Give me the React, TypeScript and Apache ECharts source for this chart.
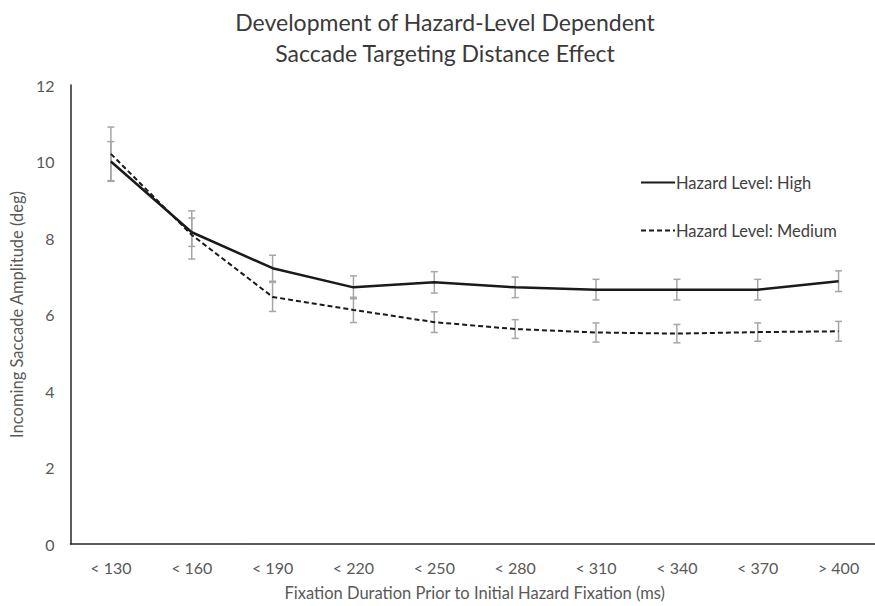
import React, { useEffect, useRef } from "react";
import * as echarts from "echarts";

const categories = ["< 130", "< 160", "< 190", "< 220", "< 250", "< 280", "< 310", "< 340", "< 370", "> 400"];
const highValues = [10.0, 8.15, 7.21, 6.71, 6.84, 6.71, 6.65, 6.65, 6.65, 6.87];
const highErrors = [0.52, 0.37, 0.34, 0.3, 0.28, 0.27, 0.27, 0.27, 0.27, 0.27];
const mediumValues = [10.2, 8.08, 6.46, 6.12, 5.8, 5.62, 5.53, 5.5, 5.54, 5.56];
const mediumErrors = [0.7, 0.63, 0.38, 0.33, 0.27, 0.245, 0.25, 0.24, 0.24, 0.26];
const yTicks = { min: 0, max: 12, interval: 2 };

const FONT = "Lato";
const LABEL = "#595959";

function errorData(vals: number[], errs: number[]) {
  return vals.map((v, i) => [i, v - errs[i], v + errs[i]]);
}

const renderError = (params: any, api: any) => {
  const x = api.value(0);
  const lo = api.coord([x, api.value(1)]);
  const hi = api.coord([x, api.value(2)]);
  const half = 3.5;
  const style = { stroke: "#a6a6a6", lineWidth: 1.5, fill: "none" };
  return {
    type: "group",
    children: [
      { type: "line", shape: { x1: lo[0], y1: lo[1], x2: hi[0], y2: hi[1] }, style },
      { type: "line", shape: { x1: lo[0] - half, y1: lo[1], x2: lo[0] + half, y2: lo[1] }, style },
      { type: "line", shape: { x1: hi[0] - half, y1: hi[1], x2: hi[0] + half, y2: hi[1] }, style },
    ],
  };
};

export default function App() {
  const ref = useRef<HTMLDivElement>(null);
  useEffect(() => {
    if (!ref.current) return;
    const chart = echarts.init(ref.current, null, { renderer: "svg" });
    chart.setOption({
      animation: false,
      backgroundColor: "#ffffff",
      title: {
        text: "Development of Hazard-Level Dependent\nSaccade Targeting Distance Effect",
        left: 445,
        textAlign: "center",
        top: 6,
        padding: 0,
        textStyle: { fontFamily: FONT, fontSize: 23, fontWeight: "normal", color: "#3a3a3a", lineHeight: 31 },
      },
      legend: {
        orient: "vertical",
        left: 640,
        top: 174,
        padding: 0,
        itemGap: 31,
        itemWidth: 34,
        itemHeight: 18,
        itemStyle: { opacity: 0 },
        data: ["Hazard Level: High", "Hazard Level: Medium"],
        textStyle: { fontFamily: FONT, fontSize: 16.5, color: "#404040", padding: [0, 0, 0, -4] },
      },
      grid: { left: 67, right: 0, top: 85, bottom: 61, containLabel: false },
      xAxis: {
        type: "category",
        data: categories,
        boundaryGap: true,
        axisLine: { lineStyle: { color: "#262626", width: 1.5 } },
        axisTick: { show: false },
        axisLabel: { fontFamily: FONT, fontSize: 16, color: LABEL, margin: 15 },
        name: "Fixation Duration Prior to Initial Hazard Fixation (ms)",
        nameLocation: "middle",
        nameGap: 40,
        nameTextStyle: { fontFamily: FONT, fontSize: 16.5, color: LABEL },
      },
      yAxis: {
        type: "value",
        min: yTicks.min,
        max: yTicks.max,
        interval: yTicks.interval,
        axisLine: { show: true, lineStyle: { color: "#262626", width: 1.5 } },
        axisTick: { show: false },
        splitLine: { show: false },
        axisLabel: { fontFamily: FONT, fontSize: 16, color: LABEL, margin: 16 },
        name: "Incoming Saccade Amplitude (deg)",
        nameLocation: "middle",
        nameGap: 40,
        nameTextStyle: { fontFamily: FONT, fontSize: 16.5, color: LABEL },
      },
      series: [
        {
          type: "custom",
          name: "errHigh",
          renderItem: renderError,
          data: errorData(highValues, highErrors),
          encode: { x: 0, y: [1, 2] },
          z: 1,
        },
        {
          type: "custom",
          name: "errMedium",
          renderItem: renderError,
          data: errorData(mediumValues, mediumErrors),
          encode: { x: 0, y: [1, 2] },
          z: 1,
        },
        {
          type: "line",
          name: "Hazard Level: High",
          data: highValues,
          symbol: "none",
          lineStyle: { color: "#1a1a1a", width: 2.5, type: "solid" },
          itemStyle: { color: "#1a1a1a" },
          z: 3,
        },
        {
          type: "line",
          name: "Hazard Level: Medium",
          data: mediumValues,
          symbol: "none",
          lineStyle: { color: "#1a1a1a", width: 2, type: [5, 3] },
          itemStyle: { color: "#1a1a1a" },
          z: 3,
        },
      ],
    });
    return () => chart.dispose();
  }, []);
  return <div ref={ref} style={{ width: 879, height: 606, position: "fixed", left: 0, top: 0 }} />;
}
